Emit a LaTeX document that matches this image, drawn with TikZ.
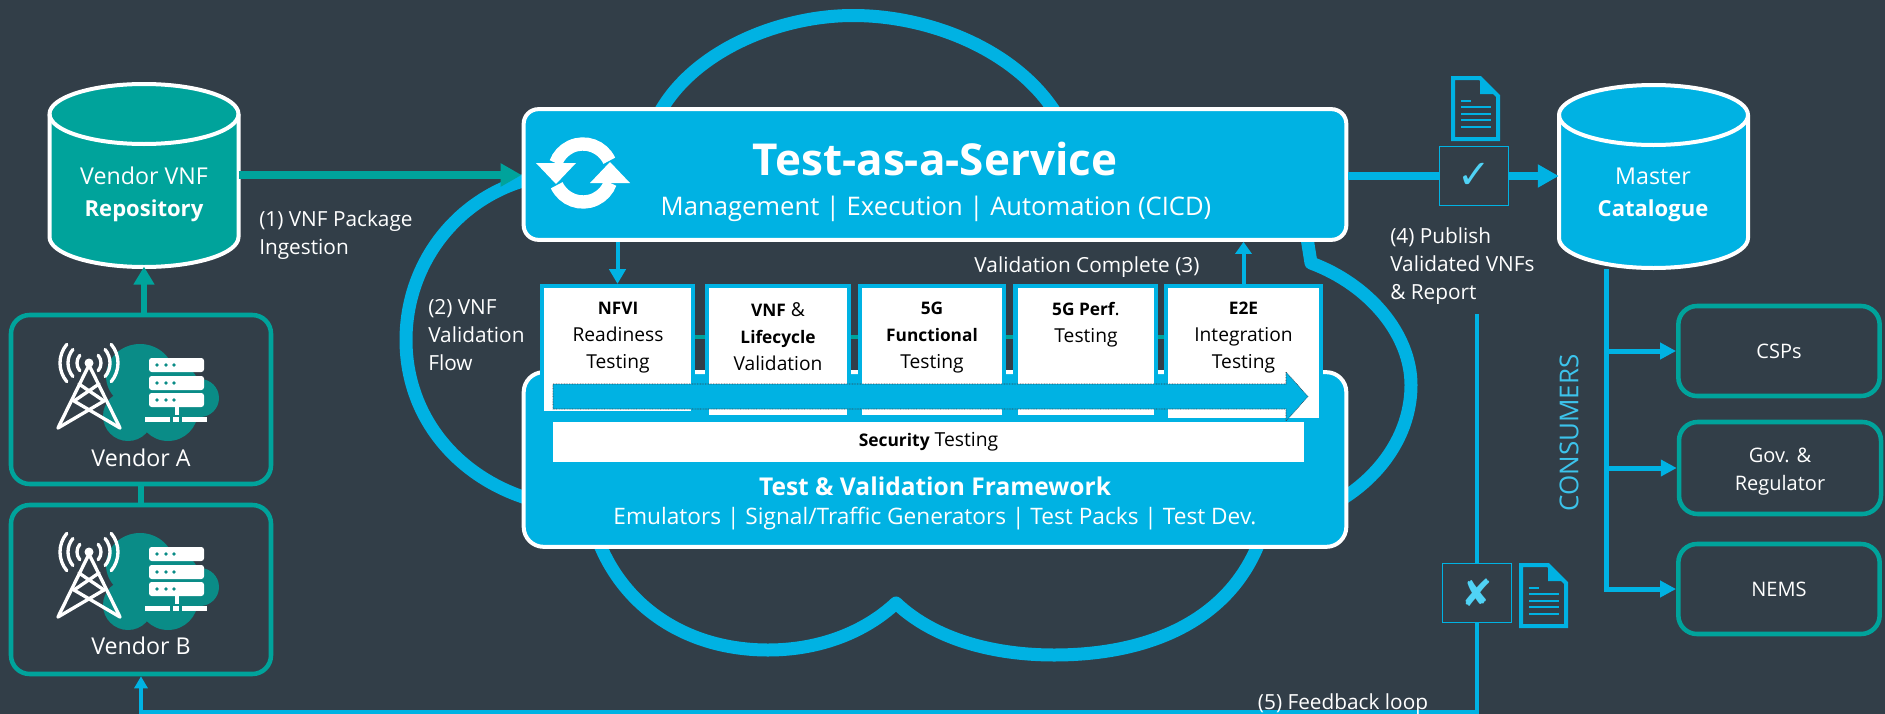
\documentclass[tikz,border=0pt]{standalone}
\usepackage{fontspec}
\setmainfont{Open Sans}
\newfontfamily\symbolfont{DejaVu Sans}
\usetikzlibrary{arrows.meta}

\definecolor{slatebg}{RGB}{50,62,72}
\definecolor{skyblue}{RGB}{0,178,227}
\definecolor{lightsky}{RGB}{60,195,235}
\definecolor{markblue}{RGB}{80,210,245}
\definecolor{seateal}{RGB}{0,163,155}
\definecolor{deepteal}{RGB}{10,140,135}

\newcommand{\heavy}[2][0.9]{{\bfseries\addfontfeature{Scale=#1}#2}}

\tikzset{
	plain text/.style={inner sep=0pt,text=white,font=\fontsize{15.6}{21}\selectfont,align=left},
	box text/.style={inner sep=0pt,text=black,font=\fontsize{14.4}{20.25}\selectfont,align=center,anchor=north},
	white text/.style={inner sep=0pt,text=white,font=\fontsize{17.4}{24}\selectfont,align=center},
	cloud line/.style={draw=skyblue,line width=9.75pt,line join=round},
	blue panel/.style={draw=white,line width=3pt,fill=skyblue,rounded corners=11pt},
	test box/.style={draw=skyblue,line width=3.4pt,fill=white},
	teal box/.style={draw=seateal,line width=3.4pt,rounded corners=14pt,text=white,font=\fontsize{15}{21}\selectfont,align=center},
	store/.style={minimum width=141.75pt,minimum height=137pt,inner sep=0pt},
	mark box/.style={draw=skyblue,line width=1pt,minimum width=52pt,minimum height=44pt,inner sep=0pt,text=markblue},
	icon line/.style={draw=white,line width=2.5pt,line cap=round,line join=round},
	store shape/.pic={
		\draw[white,line width=3pt,fill=#1,line join=round] (-94.5,-61) arc[start angle=180,end angle=360,x radius=94.5,y radius=30] -- (94.5,62) arc[start angle=0,end angle=180,x radius=94.5,y radius=30] -- cycle;
		\draw[white,line width=3pt] (-94.5,-61) arc[start angle=180,end angle=0,x radius=94.5,y radius=30];
	},
	vendor icon/.pic={
		%cloud behind the icon
		\fill[deepteal] (140,565) ellipse (34 and 32);
		\fill[deepteal] (128,605) circle (25);
		\fill[deepteal] (168,600) circle (30);
		\fill[deepteal] (170,580) circle (30);
		\fill[deepteal] (200,587) circle (19);
		%tower
		\fill[white] (89,552) circle (4.5);
		\foreach \wavesize in {12,21,29} {
			\draw[icon line] ([shift={(40:\wavesize)}]89,552) arc[start angle=40,end angle=-40,radius=\wavesize];
			\draw[icon line] ([shift={(140:\wavesize)}]89,552) arc[start angle=140,end angle=220,radius=\wavesize];
		}
		\draw[icon line] (58,617) -- (89,554) -- (120,617);
		\draw[icon line] (79,573) -- (104,590) -- (58,617);
		\draw[icon line] (99,573) -- (74,590) -- (120,617);
		%server
		\foreach \rowtop in {547,565,582} {
			\fill[white,rounded corners=2pt] (149,\rowtop) rectangle (204,\rowtop+14);
			\foreach \dotx in {157,166,174} {
				\fill[deepteal] (\dotx,\rowtop+7) circle (1.8);
			}
		}
		\fill[white] (174.5,596) rectangle (179,604);
		\fill[white] (145,605.5) rectangle (170,610.5);
		\fill[white] (173,605.5) rectangle (179,610.5);
		\fill[white] (182,605.5) rectangle (207,610.5);
	},
	doc icon/.pic={
		\draw[skyblue,line width=3pt] (2,2) -- (29,2) -- (47,20) -- (47,63) -- (2,63) -- cycle;
		\fill[skyblue] (29,2) -- (47,18) -- (29,18) -- cycle;
		\draw[skyblue,line width=1.7pt] (10,25) -- (20,25);
		\foreach \liney in {31,38,44,51} {
			\draw[skyblue,line width=1.7pt] (10,\liney) -- (40,\liney);
		}
	},
	sync icon/.pic={
		\draw[white,line width=10pt] ([shift={(-25:29)}]0,0) arc[start angle=-25,end angle=-160,radius=29];
		\fill[white] (-47,-10) -- (-7,-10) -- (-27,11) -- cycle;
		\draw[white,line width=10pt] ([shift={(155:29)}]0,0) arc[start angle=155,end angle=20,radius=29];
		\fill[white] (7,10) -- (47,10) -- (27,-11) -- cycle;
	}
}

\begin{document}
\begin{tikzpicture}[x=0.75pt,y=0.75pt,yscale=-1,xscale=1]
	%background, sets the page
	\fill[slatebg,use as bounding box] (0,0) rectangle (1885,714);

	%Cloud outline behind the panels
	\draw[cloud line] (660,112) .. controls (695,50) and (780,15.5) .. (853,15.5) .. controls (930,15.5) and (1015,50) .. (1055,112);
	\draw[cloud line] (526,180) .. controls (455,200) and (406,265) .. (406,340) .. controls (406,415) and (455,475) .. (526,498);
	\draw[cloud line] (1307,238) -- (1311,263) .. controls (1370,285) and (1411,335) .. (1411,385) .. controls (1411,430) and (1385,472) .. (1342,499);
	\draw[cloud line] (598,540) .. controls (625,610) and (690,650) .. (768,650) .. controls (820,650) and (865,632) .. (896,603) .. controls (935,640) and (995,655) .. (1054,655) .. controls (1150,655) and (1230,620) .. (1260,540);

	%Panels
	\node[blue panel,minimum width=617pt,minimum height=98pt] (taas) at (935,174.5) {};
	\node[blue panel,rounded corners=15pt,minimum width=617pt,minimum height=131pt] (framework) at (935,459.5) {};

	%Test boxes
	\node[test box,minimum width=113pt,minimum height=95pt] (nfvi) at (617.5,349.5) {};
	\node[test box,minimum width=106.5pt,minimum height=98pt] (lifecycle) at (778,351.5) {};
	\node[test box,minimum width=108pt,minimum height=98pt] (functional) at (932,351.5) {};
	\node[test box,minimum width=105.4pt,minimum height=98pt] (perf) at (1085.75,351.5) {};
	\node[test box,minimum width=116pt,minimum height=100.5pt] (endtoend) at (1243.5,353) {};
	\coordinate (linkrow) at (0,337);
	\draw[seateal,line width=3.5pt] (nfvi.east |- linkrow) -- (lifecycle.west |- linkrow);
	\draw[seateal,line width=3.5pt] (lifecycle.east |- linkrow) -- (functional.west |- linkrow);
	\draw[seateal,line width=3.5pt] (functional.east |- linkrow) -- (perf.west |- linkrow);
	\draw[seateal,line width=3.5pt] (perf.east |- linkrow) -- (endtoend.west |- linkrow);

	%Flow arrow over the test boxes
	\draw[fill=skyblue,draw=slatebg,line width=0.4pt,dash pattern=on 0.6pt off 0.6pt] (553,384) -- (1286,384) -- (1286,372) -- (1308,396.5) -- (1286,421) -- (1286,409) -- (553,409) -- cycle;

	%Security bar
	\node[fill=white,minimum width=563pt,minimum height=30pt,inner sep=0pt,text=black,font=\fontsize{14.5}{20}\selectfont] (security) at (928.5,442) {\heavy{Security} Testing};

	%Stores
	\pic[yscale=-1] at (144,175) {store shape=seateal};
	\pic[yscale=-1] at (1653.5,176) {store shape=skyblue};
	\node[store] (repo) at (144,175) {};
	\node[store] (master) at (1653.5,176) {};

	%Vendors
	\node[teal box,minimum width=195pt,minimum height=126.75pt] (vendora) at (141,399.5) {};
	\node[teal box,minimum width=195pt,minimum height=126.75pt] (vendorb) at (141,589.5) {};
	\pic[yscale=-1] at (0,-189) {vendor icon};
	\pic[yscale=-1] at (0,0) {vendor icon};

	%Consumers
	\node[teal box,minimum width=151pt,minimum height=67.5pt] (csps) at (1779,351) {CSPs};
	\node[teal box,minimum width=151.5pt,minimum height=69pt] (regulator) at (1780,468) {};
	\node[teal box,minimum width=151pt,minimum height=67.5pt] (nems) at (1779,589) {NEMS};

	%Mark boxes and reports
	\node[mark box,font=\symbolfont\fontsize{30}{30}\selectfont] (passbox) at (1474,176) {✓};
	\node[mark box,font=\symbolfont\fontsize{28}{28}\selectfont] (failbox) at (1477,593) {✘};
	\pic[yscale=-1] at (1451,76) {doc icon};
	\pic[yscale=-1] at (1519,563) {doc icon};
	\pic[yscale=-1] at (583,173) {sync icon};

	%Connectors
	\draw[seateal,line width=6pt,-{Triangle[length=15.75pt,width=16.5pt]}] (repo) -- (taas.west |- repo);
	\draw[seateal,line width=4.5pt,-{Triangle[length=13.5pt,width=15pt]}] (vendora.north -| repo) -- (repo);
	\draw[seateal,line width=4.5pt] (vendora) -- (vendorb);
	\draw[skyblue,line width=3pt,-{Triangle[length=11pt,width=12pt]}] (taas.south -| nfvi) -- (nfvi.north);
	\draw[skyblue,line width=3pt,-{Triangle[length=9pt,width=12pt]}] (endtoend.north) -- (taas.south -| endtoend);
	\draw[skyblue,line width=6pt] (taas.east |- passbox) -- (passbox.west);
	\draw[skyblue,line width=6pt,-{Triangle[length=15.75pt,width=16.5pt]}] (passbox.east) -- (master);
	\coordinate (busstart) at (1606.6,269);
	\coordinate (feedbackstart) at (1477,314);
	\coordinate (feedbackcorner) at (1477,712);
	\draw[skyblue,line width=3.75pt,-{Triangle[length=12pt,width=12pt]}] (busstart) |- (nems.west);
	\draw[skyblue,line width=3.75pt,-{Triangle[length=12pt,width=12pt]}] (busstart |- csps) -- (csps.west);
	\draw[skyblue,line width=3.75pt,-{Triangle[length=12pt,width=12pt]}] (busstart |- regulator) -- (regulator.west);
	\draw[skyblue,line width=2.6pt] (feedbackstart) -- (failbox.north);
	\draw[skyblue,line width=2.6pt,-{Triangle[length=9pt,width=9.75pt]}] (failbox.south) -- (feedbackcorner) -| (vendorb.south);

	% Text Node
	\node[white text] (repotext) at (144,194) {Vendor VNF\\\heavy[0.95]{Repository}};
	% Text Node
	\node[white text] (mastertext) at (1653,195) {Master\\\heavy[0.95]{Catalogue}};
	% Text Node
	\node[inner sep=0pt,text=white,font=\bfseries\fontsize{33}{33}\selectfont] (taastitle) at (935,159) {Test-as-a-Service};
	% Text Node
	\node[inner sep=0pt,text=white,font=\fontsize{19.2}{19.2}\selectfont] (taassub) at (936,209) {Management | Execution | Automation (CICD)};
	% Text Node
	\node[inner sep=0pt,text=white,font=\bfseries\fontsize{18.4}{18.4}\selectfont] (frametitle) at (935,486) {Test \& Validation Framework};
	% Text Node
	\node[inner sep=0pt,text=white,font=\fontsize{17}{17}\selectfont] (framesub) at (935,519) {Emulators | Signal/Traffic Generators | Test Packs | Test Dev.};
	% Text Node
	\node[box text] (nfvitext) at (618,302) {\heavy{NFVI}\\Readiness\\Testing};
	% Text Node
	\node[box text] (lifecycletext) at (778,302) {\heavy{VNF} \&\\\heavy{Lifecycle}\\Validation};
	% Text Node
	\node[box text] (functionaltext) at (932,302) {\heavy{5G}\\\heavy{Functional}\\Testing};
	% Text Node
	\node[box text] (perftext) at (1086,302) {\heavy{5G Perf}.\\Testing};
	% Text Node
	\node[box text] (endtoendtext) at (1243.5,302) {\heavy{E2E}\\Integration\\Testing};
	% Text Node
	\node[plain text,anchor=west] (ingesttext) at (259,235.5) {(1) VNF Package\\Ingestion};
	% Text Node
	\node[plain text,anchor=west] (flowtext) at (428,335) {(2) VNF\\Validation\\Flow};
	% Text Node
	\node[plain text] (completetext) at (1087,267) {Validation Complete (3)};
	% Text Node
	\node[plain text,anchor=west] (publishtext) at (1390,266.5) {(4) Publish\\Validated VNFs\\\& Report};
	% Text Node
	\node[plain text] (feedbacktext) at (1343,704) {(5) Feedback loop};
	% Text Node
	\node[inner sep=0pt,text=white,font=\fontsize{17.4}{21}\selectfont] (vendoratext) at (141,458) {Vendor A};
	% Text Node
	\node[inner sep=0pt,text=white,font=\fontsize{17.4}{21}\selectfont] (vendorbtext) at (141,646) {Vendor B};
	% Text Node
	\node[inner sep=0pt,text=white,align=center,font=\fontsize{15}{21}\selectfont] (regulatortext) at (1780,472) {Gov. \&\\Regulator};
	% Text Node
	\node[inner sep=0pt,text=lightsky,rotate=90,font=\fontsize{19.5}{19.5}\selectfont] (consumertext) at (1569,433) {CONSUMERS};
\end{tikzpicture}
\end{document}
